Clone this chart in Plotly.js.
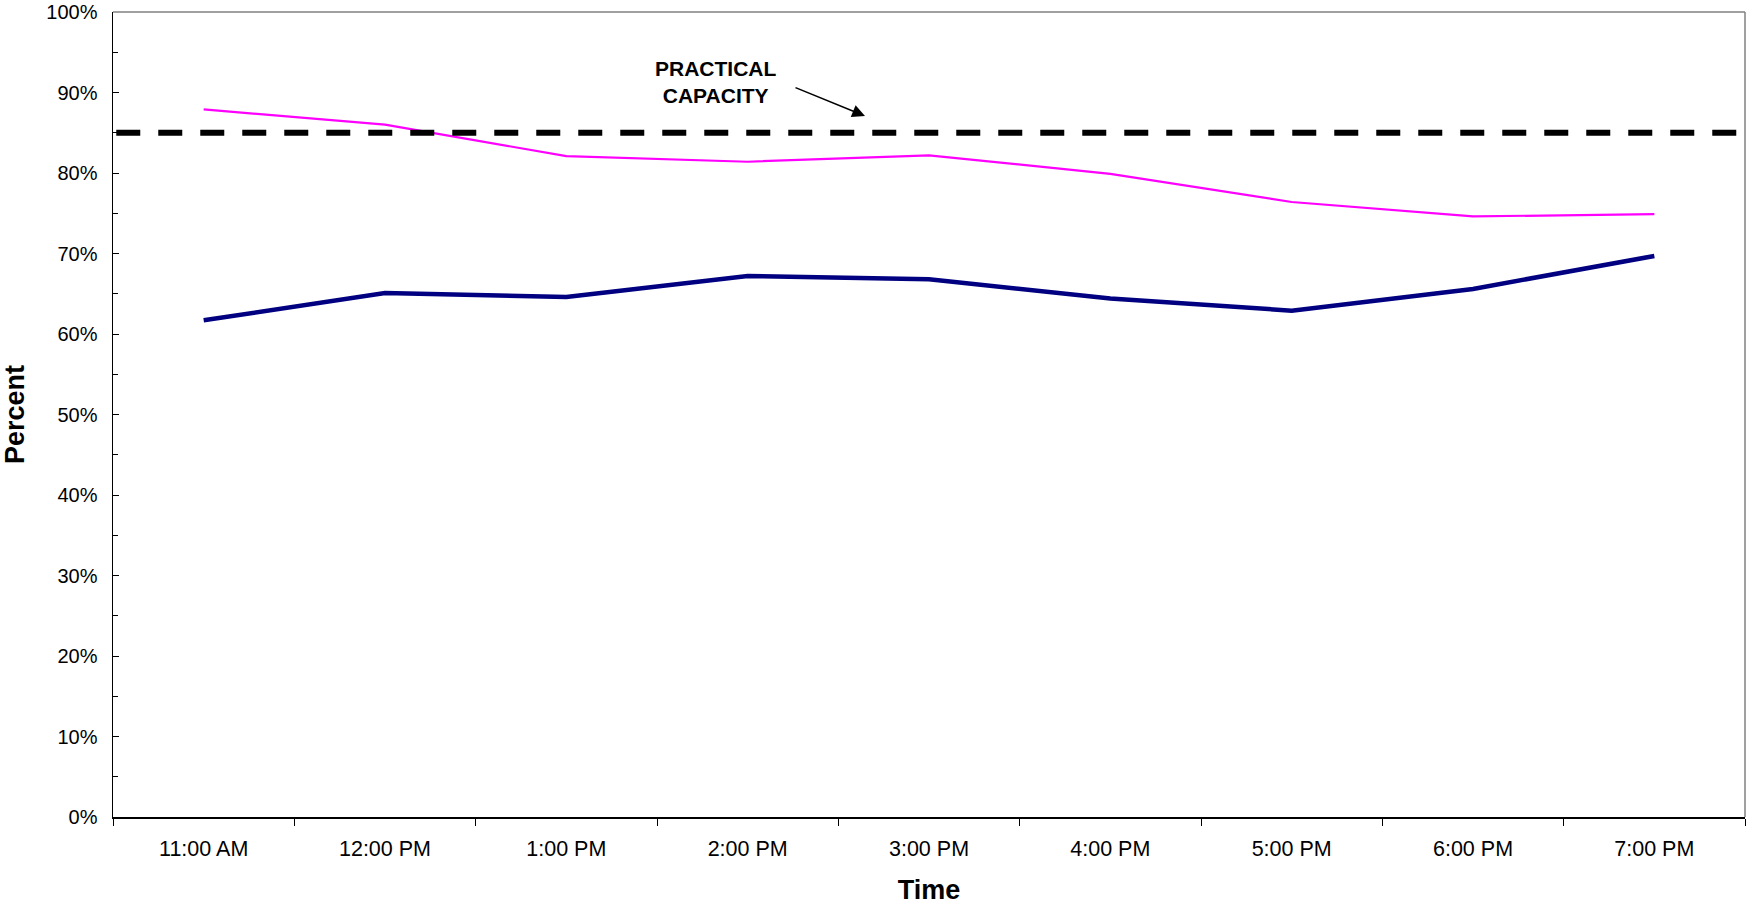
<!DOCTYPE html>
<html>
<head>
<meta charset="utf-8">
<script src="https://cdn.plot.ly/plotly-3.0.1.min.js"></script>
<style>
html,body{margin:0;padding:0;background:#fff;}
#chart{width:1746px;height:905px;}
</style>
</head>
<body>
<div id="chart"></div>
<script>
const times = ["11:00 AM","12:00 PM","1:00 PM","2:00 PM","3:00 PM","4:00 PM","5:00 PM","6:00 PM","7:00 PM"];
const magentaSeries = [0.879, 0.860, 0.821, 0.814, 0.822, 0.799, 0.764, 0.746, 0.749];
const navySeries = [0.617, 0.651, 0.646, 0.672, 0.668, 0.644, 0.629, 0.656, 0.697];
const practicalCapacity = 0.85;
const yTicks = [0,0.1,0.2,0.3,0.4,0.5,0.6,0.7,0.8,0.9,1.0];
const yTickLabels = ["0%","10%","20%","30%","40%","50%","60%","70%","80%","90%","100%"];

const FONT = "Liberation Sans, Arial, sans-serif";

const traces = [
  {
    x: times, y: magentaSeries, type: "scatter", mode: "lines",
    line: {color: "#FF00FF", width: 2.2}, showlegend: false, hoverinfo: "skip"
  },
  {
    x: times, y: navySeries, type: "scatter", mode: "lines",
    line: {color: "#000080", width: 4.5}, showlegend: false, hoverinfo: "skip"
  }
];

const layout = {
  width: 1746, height: 905,
  margin: {l: 113, r: 1, t: 12, b: 88, pad: 0},
  paper_bgcolor: "#fff", plot_bgcolor: "#fff",
  font: {family: FONT, color: "#000", size: 20},
  showlegend: false,
  xaxis: {
    type: "category",
    range: [-0.5, 8.5],
    tickson: "boundaries",
    ticks: "outside", ticklen: 7, tickcolor: "#000", tickwidth: 1,
    showline: true, linecolor: "#000", linewidth: 1.5,
    showgrid: false, zeroline: false,
    tickfont: {family: FONT, size: 21.5, color: "#000"},
    ticklabelstandoff: 12,
    title: {text: "<b>Time</b>", font: {family: FONT, size: 27, color: "#000"}, standoff: 22}
  },
  yaxis: {
    range: [0, 1],
    tickvals: yTicks, ticktext: yTickLabels,
    ticks: "inside", ticklen: 6, tickcolor: "#000", tickwidth: 1,
    minor: {dtick: 0.05, tick0: 0, ticks: "inside", ticklen: 5, tickcolor: "#000", tickwidth: 1, showgrid: false},
    showline: true, linecolor: "#000", linewidth: 1.5,
    showgrid: false, zeroline: false,
    tickfont: {family: FONT, size: 20, color: "#000"},
    ticklabelstandoff: 10,
    title: {text: "<b>Percent</b>", font: {family: FONT, size: 27, color: "#000"}, standoff: 17}
  },
  shapes: [
    {type: "line", xref: "paper", yref: "paper", x0: 0, x1: 1, y0: 1, y1: 1,
     line: {color: "#808080", width: 1.5}},
    {type: "line", xref: "paper", yref: "paper", x0: 1, x1: 1, y0: 0, y1: 1,
     line: {color: "#808080", width: 1.5}},
    {type: "line", xref: "paper", yref: "y", x0: 0.002, x1: 1, y0: practicalCapacity, y1: practicalCapacity,
     line: {color: "#000", width: 6, dash: "24px,18px"}}
  ],
  annotations: [
    {xref: "paper", yref: "paper", x: 0.3689, y: 0.913, text: "<b>PRACTICAL<br>CAPACITY</b>",
     showarrow: false, xanchor: "center", yanchor: "middle",
     font: {family: FONT, size: 21, color: "#000"}},
    {xref: "paper", yref: "paper", x: 0.4608, y: 0.8708, text: "",
     showarrow: true, axref: "pixel", ayref: "pixel", ax: -71, ay: -29,
     arrowhead: 2, arrowsize: 1.6, arrowwidth: 1.6, arrowcolor: "#000", standoff: 0}
  ]
};

Plotly.newPlot("chart", traces, layout, {staticPlot: true, displayModeBar: false});
</script>
</body>
</html>
